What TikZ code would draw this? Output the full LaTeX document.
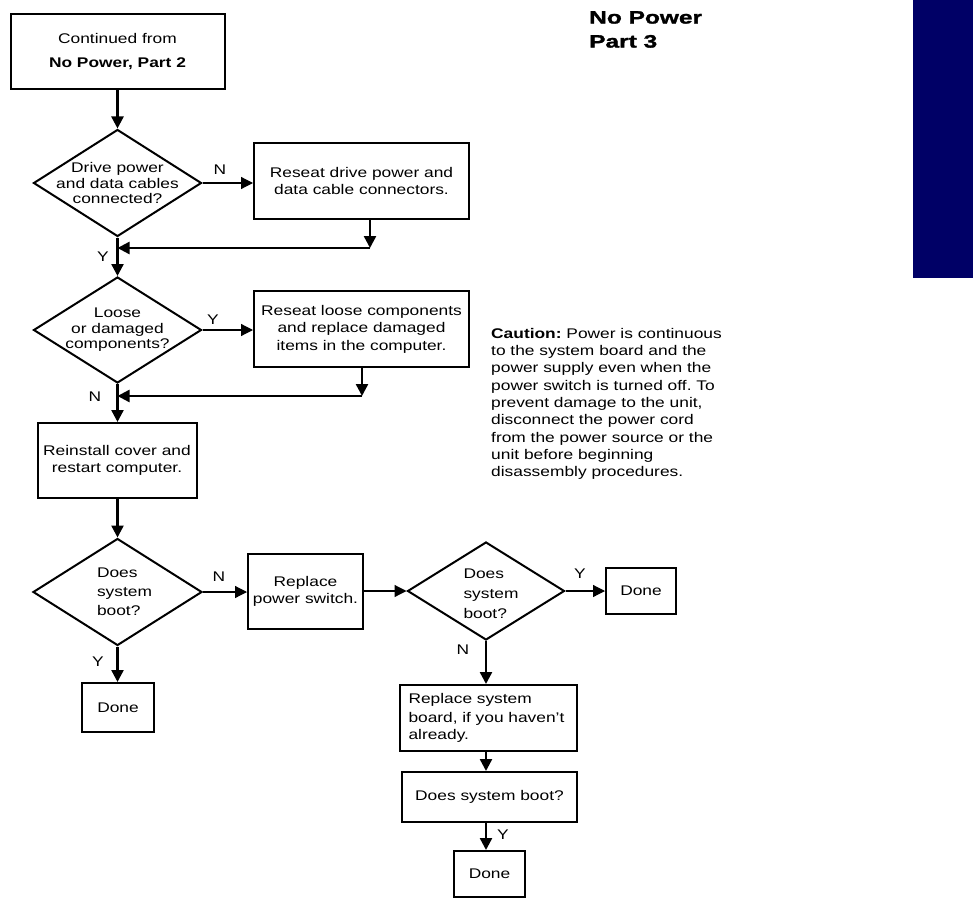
\documentclass[tikz,border=0pt]{standalone}
\usepackage{fontspec}
\setmainfont[FakeStretch=1.24]{Liberation Sans}
\newfontfamily\titlefont[FakeStretch=1.36, FakeBold=1.6]{Liberation Sans}
\usepackage{tikz}
\usetikzlibrary{arrows.meta, shapes.geometric, positioning}
\definecolor{navy}{HTML}{000066}
\newcommand{\rejoin}[3]
{
	\draw[flow] (#2 |- #1.south) -- (#2);
	\draw[flow] (#2) -- (#2 -| #3)
}
\frenchspacing

\begin{document}
\begin{tikzpicture}[x=1pt, y=-1pt,
every node/.append style={font=\fontsize{14}{17.5}\selectfont},
box/.style={draw, line width=2pt, shape=rectangle, inner sep=0pt, align=center},
dia/.style={draw, line width=2pt, shape=diamond, inner sep=0pt},
flow/.style={line width=2.4pt, -{Triangle[length=12pt,width=12pt]}},
thinflow/.style={line width=1.2pt, -{Triangle[length=12pt,width=12pt]}},
yn/.style={inner sep=0pt}]

\useasboundingbox (0,0) rectangle (973,901);
\fill[navy] (913,0) rectangle (973,278);

\node[anchor=north west, inner sep=0pt, align=left, font=\titlefont\bfseries\fontsize{18}{24}\selectfont] (title) at (589,11) {No Power\\Part 3};

\node[anchor=north west, inner sep=0pt, align=left, font=\fontsize{14}{17.3}\selectfont] (caution) at (491,328) {\textbf{Caution:} Power is continuous\\to the system board and the\\power supply even when the\\power switch is turned off. To\\prevent damage to the unit,\\disconnect the power cord\\from the power source or the\\unit before beginning\\disassembly procedures.};

\node[box, minimum width=214, minimum height=75] at (117.5,51.5) (start){Continued from\\[7pt]\textbf{No Power, Part 2}};

\node[dia, minimum width=168, minimum height=107, label={[align=center, font=\fontsize{14}{15.5}\selectfont]center:Drive power\\and data cables\\connected?}] at (117.5,183) (D1){};
\node[box, minimum width=215, minimum height=76] at (361.5,181) (R1){Reseat drive power and\\data cable connectors.};

\node[dia, minimum width=168, minimum height=106, label={[align=center, font=\fontsize{14}{15.5}\selectfont]center:Loose\\or damaged\\components?}] at (117.5,330) (D2){};
\node[box, minimum width=215, minimum height=76] at (361.5,329) (R2){Reseat loose components\\and replace damaged\\items in the computer.};

\node[box, minimum width=159, minimum height=75] at (117,460.5) (B4){Reinstall cover and\\restart computer.};

\node[dia, minimum width=169, minimum height=107, label={[align=left, xshift=7pt, font=\fontsize{14}{19}\selectfont]center:Does\\system\\boot?}] at (117.5,592) (D3){};
\node[box, minimum width=115, minimum height=75] at (305.5,591.5) (R3){Replace\\power switch.};
\node[box, minimum width=72, minimum height=49] at (118,707.5) (done2){Done};

\node[dia, minimum width=157, minimum height=98, label={[align=left, xshift=5pt, yshift=-3pt, font=\fontsize{14}{20}\selectfont]center:Does\\system\\boot?}] at (486,591) (D4){};
\node[box, minimum width=70, minimum height=46] at (641,591) (done1){Done};
\node[box, minimum width=177, minimum height=66, align=left, text width=160] at (488.5,718) (R4){\fontsize{14}{19}\selectfont Replace system\\board, if you haven't\\already.};
\node[box, minimum width=175, minimum height=50] at (489.5,797) (B7){Does system boot?};
\node[box, minimum width=71, minimum height=46] at (489.5,874) (done3){Done};

\node[yn] at (220,170) (nD1){N};
\node[yn] at (103,257) (yD1){Y};
\node[yn] at (213,320) (yD2){Y};
\node[yn] at (95,397) (nD2){N};
\node[yn] at (219,577) (nD3){N};
\node[yn] at (98,662) (yD3){Y};
\node[yn] at (580,574) (yD4){Y};
\node[yn] at (463,650) (nD4){N};
\node[yn] at (503,835) (yB7){Y};

\coordinate (c1) at (370,248);
\coordinate (c2) at (362,396);

\draw[flow] (start.south) -- (D1.north);
\draw[thinflow] (D1.east) -- (D1.east -| R1.west);
\rejoin{R1}{c1}{D1.south};
\draw[flow] (D1.south) -- (D2.north);
\draw[thinflow] (D2.east) -- (D2.east -| R2.west);
\rejoin{R2}{c2}{D2.south};
\draw[flow] (D2.south) -- (D2.south |- B4.north);
\draw[flow] (D2.south |- B4.south) -- (D3.north);
\draw[thinflow] (D3.east) -- (D3.east -| R3.west);
\draw[flow] (D3.south) -- (D3.south |- done2.north);
\draw[thinflow] (R3.east |- D4.west) -- (D4.west);
\draw[thinflow] (D4.east) -- (D4.east -| done1.west);
\draw[flow] (D4.south) -- (D4.south |- R4.north);
\draw[flow] (D4.south |- R4.south) -- (D4.south |- B7.north);
\draw[flow] (D4.south |- B7.south) -- (D4.south |- done3.north);
\end{tikzpicture}
\end{document}
